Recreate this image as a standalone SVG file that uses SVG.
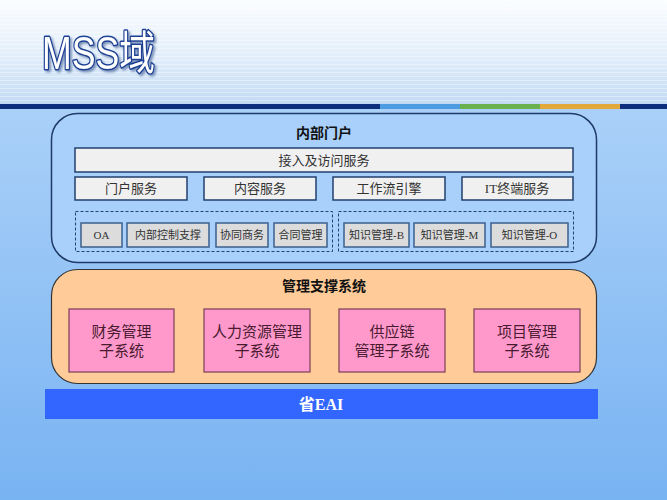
<svg xmlns="http://www.w3.org/2000/svg" width="667" height="500" viewBox="0 0 667 500">
<defs>
<linearGradient id="topbg" x1="0" y1="0" x2="0" y2="1">
<stop offset="0" stop-color="#fbfdff"/>
<stop offset="0.5" stop-color="#e4effb"/>
<stop offset="1" stop-color="#c2daf4"/>
</linearGradient>
<linearGradient id="botbg" x1="0" y1="0" x2="0" y2="1">
<stop offset="0" stop-color="#aad0f8"/>
<stop offset="1" stop-color="#78b3f2"/>
</linearGradient>
<pattern id="stripes" width="10" height="4" patternUnits="userSpaceOnUse">
<rect width="10" height="1" fill="#ffffff" fill-opacity="0.35"/>
</pattern>
<filter id="sh" x="-10%" y="-10%" width="130%" height="140%">
<feDropShadow dx="2" dy="2" stdDeviation="1" flood-color="#3a5a90" flood-opacity="0.6"/>
</filter>
</defs>
<style>
.cjk{font-family:"Liberation Serif","Noto Sans CJK SC",serif;}
.hd{font-family:"Noto Sans CJK SC","Liberation Sans",sans-serif;font-weight:bold;font-size:14px;fill:#111;text-anchor:middle;}
.svc{fill:#f0f0f0;stroke:#223f6e;stroke-width:1.5;}
.svct{font-size:13px;fill:#333;text-anchor:middle;}
.sm{fill:#dcdcdc;stroke:#3d5f8f;stroke-width:1.5;}
.smt{font-size:11px;fill:#333;text-anchor:middle;}
.dash{fill:none;stroke:#23406e;stroke-width:1;stroke-dasharray:3 2;}
.pk{fill:#ff99cc;stroke:#7a3e58;stroke-width:1.2;}
.pkt{font-size:15px;fill:#4a1a30;text-anchor:middle;}
</style>
<rect x="0" y="0" width="667" height="105" fill="url(#topbg)"/>
<rect x="0" y="0" width="667" height="105" fill="url(#stripes)"/>
<rect x="0" y="109" width="667" height="391" fill="url(#botbg)"/>
<g id="bar">
<rect x="0" y="104" width="380" height="5" fill="#0d2e7c"/>
<rect x="380" y="104" width="80" height="5" fill="#4a9be0"/>
<rect x="460" y="104" width="80" height="5" fill="#6ab04c"/>
<rect x="540" y="104" width="80" height="5" fill="#e2a83a"/>
<rect x="620" y="104" width="47" height="5" fill="#0d2e7c"/>
</g>
<g id="title" filter="url(#sh)">
<text x="42" y="69" font-family="'Liberation Sans','Noto Sans CJK SC',sans-serif" font-size="46" fill="#ffffff" stroke="#1b3f93" stroke-width="3" paint-order="stroke" stroke-linejoin="round" textLength="113" lengthAdjust="spacingAndGlyphs">MSS域</text>
</g>
<g id="portal">
<rect x="51.5" y="113.5" width="545" height="149" rx="26" fill="#a8d0fa" stroke="#1f3a68" stroke-width="1.5"/>
<text class="hd" x="324" y="138">内部门户</text>
</g>
<g id="access">
<rect class="svc" x="75" y="148" width="498" height="24"/>
<text class="cjk svct" x="324" y="165">接入及访问服务</text>
</g>
<g id="svc1"><rect class="svc" x="75" y="177" width="112" height="23"/><text class="cjk svct" x="131" y="193">门户服务</text></g>
<g id="svc2"><rect class="svc" x="204" y="177" width="112" height="23"/><text class="cjk svct" x="260" y="193">内容服务</text></g>
<g id="svc3"><rect class="svc" x="333" y="177" width="112" height="23"/><text class="cjk svct" x="389" y="193">工作流引擎</text></g>
<g id="svc4"><rect class="svc" x="462" y="177" width="111" height="23"/><text class="cjk svct" x="517" y="193">IT终端服务</text></g>
<g id="grp1"><rect class="dash" x="75.5" y="211.5" width="257" height="40"/></g>
<g id="grp2"><rect class="dash" x="338.5" y="211.5" width="235" height="40"/></g>
<g id="oa"><rect class="sm" x="81" y="223" width="41" height="24"/><text class="cjk smt" x="101.5" y="239">OA</text></g>
<g id="nbkz"><rect class="sm" x="127" y="223" width="82" height="24"/><text class="cjk smt" x="168" y="239">内部控制支撑</text></g>
<g id="xtsw"><rect class="sm" x="216" y="223" width="52" height="24"/><text class="cjk smt" x="242" y="239">协同商务</text></g>
<g id="htgl"><rect class="sm" x="274" y="223" width="53" height="24"/><text class="cjk smt" x="300.5" y="239">合同管理</text></g>
<g id="zsb"><rect class="sm" x="344" y="223" width="65" height="24"/><text class="cjk smt" x="376.5" y="239">知识管理-B</text></g>
<g id="zsm"><rect class="sm" x="414" y="223" width="71" height="24"/><text class="cjk smt" x="449.5" y="239">知识管理-M</text></g>
<g id="zso"><rect class="sm" x="491" y="223" width="77" height="24"/><text class="cjk smt" x="529.5" y="239">知识管理-O</text></g>
<g id="mgmt">
<rect x="51.5" y="269.5" width="545" height="114" rx="26" fill="#ffcc99" stroke="#333333" stroke-width="1.2"/>
<text class="hd" x="324" y="291">管理支撑系统</text>
</g>
<g id="cw"><rect class="pk" x="69" y="309" width="105" height="63"/><text class="cjk pkt" x="121.5" y="337">财务管理</text><text class="cjk pkt" x="121.5" y="356">子系统</text></g>
<g id="rl"><rect class="pk" x="204" y="309" width="106" height="63"/><text class="cjk pkt" x="257" y="337">人力资源管理</text><text class="cjk pkt" x="257" y="356">子系统</text></g>
<g id="gyl"><rect class="pk" x="339" y="309" width="106" height="63"/><text class="cjk pkt" x="392" y="337">供应链</text><text class="cjk pkt" x="392" y="356">管理子系统</text></g>
<g id="xm"><rect class="pk" x="474" y="309" width="106" height="63"/><text class="cjk pkt" x="527" y="337">项目管理</text><text class="cjk pkt" x="527" y="356">子系统</text></g>
<g id="eai">
<rect x="45" y="389" width="553" height="30" fill="#3366ff"/>
<text x="321" y="410" font-family="'Liberation Serif','Noto Sans CJK SC',serif" font-weight="bold" font-size="16" fill="#ffffff" text-anchor="middle">省EAI</text>
</g>
<g id="connectors"/>
</svg>
